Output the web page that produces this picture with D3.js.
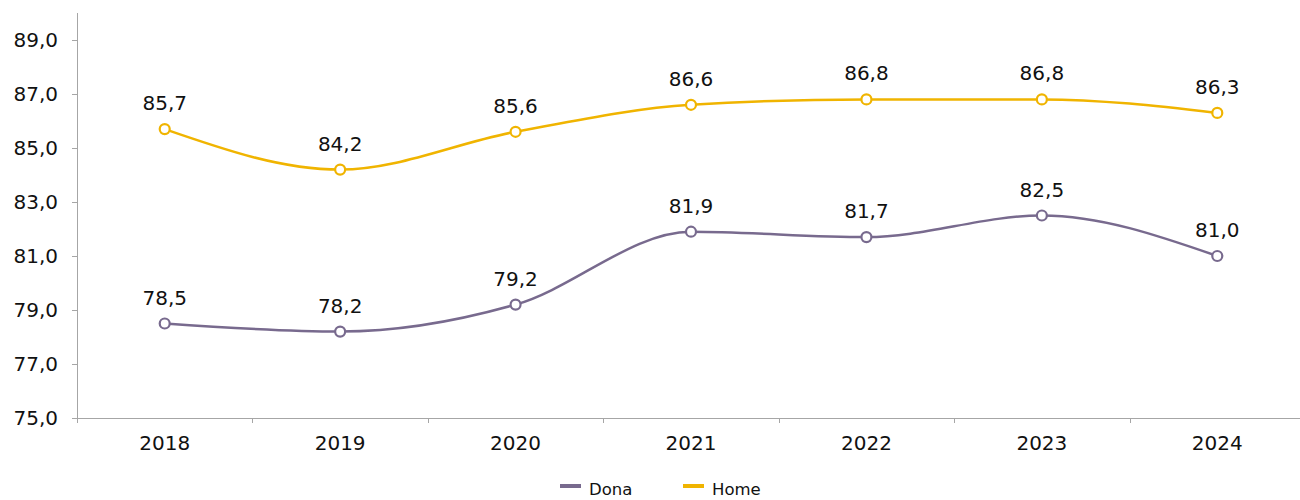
<!DOCTYPE html>
<html><head><meta charset="utf-8">
<script src="https://cdn.jsdelivr.net/npm/d3@7"></script>
<style>body{margin:0;background:#fff;} text{font-family:"DejaVu Sans",sans-serif;}</style>
</head><body>
<svg id="c" width="1300" height="500"></svg>
<script>
const years = ["2018","2019","2020","2021","2022","2023","2024"];
const dona = [78.5,78.2,79.2,81.9,81.7,82.5,81.0];
const home = [85.7,84.2,85.6,86.6,86.8,86.8,86.3];
const yTicks = [75,77,79,81,83,85,87,89];
const seriesNames = ["Dona","Home"];
const colors = ["#786a8e","#f0b400"];

(function(){
const svg = d3.select("#c");
const mL = 77, mR = 1305, mT = 13, mB = 418;
const x = d3.scaleBand().domain(years).range([mL, mR]).padding(0);
const y = d3.scaleLinear().domain([75,90]).range([mB, mT]);
const fmt = v => v.toFixed(1).replace(".", ",");
const axisColor = "#a6a6a6";

// y axis
const ya = svg.append("g").attr("transform", `translate(${mL},0)`)
  .call(d3.axisLeft(y).tickValues(yTicks).tickFormat(fmt).tickSize(5).tickPadding(14).tickSizeOuter(0));
ya.select(".domain").attr("stroke", axisColor).attr("d", `M0.5,${mB}V${mT}`);
ya.selectAll(".tick line").attr("stroke", axisColor);
ya.selectAll(".tick text").attr("font-size", 20).attr("fill", "#111").attr("font-family","DejaVu Sans");

// x axis
const xa = svg.append("g").attr("transform", `translate(0,${mB})`)
  .call(d3.axisBottom(x).tickSize(0).tickPadding(18));
xa.select(".domain").attr("stroke", axisColor);
xa.selectAll(".tick text").attr("font-size", 20).attr("fill", "#111").attr("font-family","DejaVu Sans");
const bounds = years.map(d => x(d)).concat([mR]);
xa.selectAll("line.b").data(bounds).enter().append("line").attr("class","b")
  .attr("x1", d => Math.round(d)+0.5).attr("x2", d => Math.round(d)+0.5)
  .attr("y1", 0).attr("y2", 5).attr("stroke", axisColor);

const cx = d => x(d) + x.bandwidth()/2;
const line = d3.line().x((d,i) => cx(years[i])).y(d => y(d)).curve(d3.curveMonotoneX);

[dona, home].forEach((vals, si) => {
  const g = svg.append("g");
  g.append("path").attr("d", line(vals)).attr("fill","none").attr("stroke", colors[si]).attr("stroke-width", 2.5);
  g.selectAll("circle").data(vals).enter().append("circle")
    .attr("cx", (d,i) => cx(years[i])).attr("cy", d => y(d)).attr("r", 5)
    .attr("fill", "#fff").attr("stroke", colors[si]).attr("stroke-width", 2.2);
  g.selectAll("text").data(vals).enter().append("text")
    .attr("x", (d,i) => cx(years[i])).attr("y", d => y(d) - 19)
    .attr("text-anchor","middle").attr("font-size", 20).attr("fill","#111").text(fmt);
});

const legX = [560, 683];
seriesNames.forEach((n, i) => {
  svg.append("rect").attr("x", legX[i]).attr("y", 484).attr("width", 21).attr("height", 4).attr("fill", colors[i]);
  svg.append("text").attr("x", legX[i] + 29).attr("y", 495).attr("font-size", 16.5).attr("fill","#111").text(n);
});
})();
</script>
</body></html>
